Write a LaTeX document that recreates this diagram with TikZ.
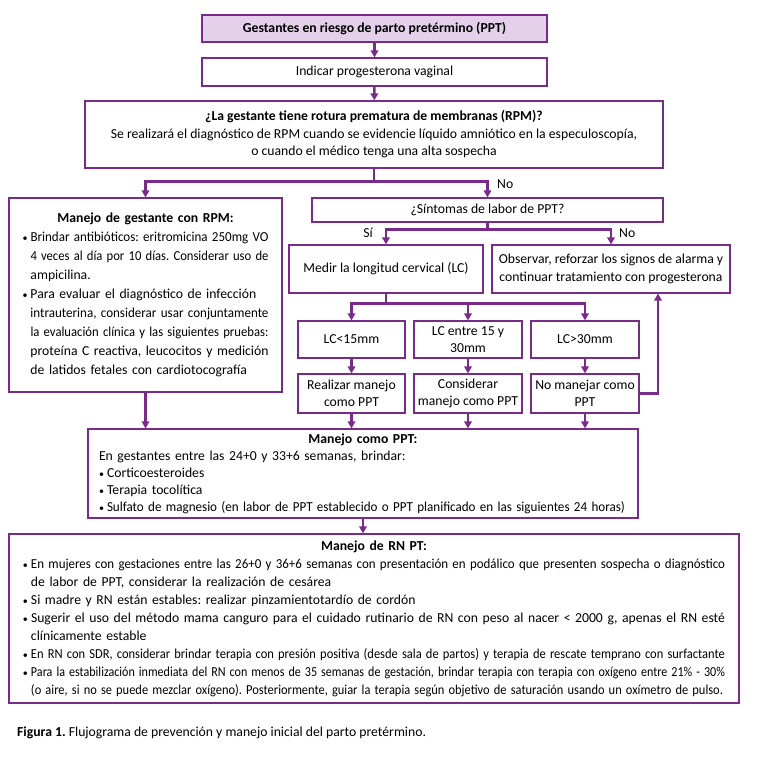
\documentclass[tikz,border=0pt]{standalone}
\usepackage{fontspec}
\setmainfont{Carlito}
\usepackage{graphicx}
\usetikzlibrary{arrows.meta}

\definecolor{morado}{RGB}{122,42,138}
\definecolor{lila}{RGB}{228,208,234}

% justified line of a given width: spread the spaces, or squeeze the glyphs
\newcommand{\fitline}[2]{\sbox0{#2}\ifdim\wd0>#1\relax\resizebox{#1}{\height}{#2}\else\makebox[#1][s]{#2}\fi}
\newcommand{\bul}{\makebox[8pt][l]{\fontsize{10}{10}\selectfont\textbullet}}
\frenchspacing

\begin{document}
\begin{tikzpicture}[x=1pt,y=-1pt,
    caja/.style={draw=morado, line width=1.2pt, inner sep=0pt, align=center,
        font=\fontsize{13.7}{17.5}\selectfont},
    flecha/.style={morado, line width=2.6pt, -{Triangle[width=7.5pt,length=7pt]}},
    etiqueta/.style={inner sep=0pt, font=\fontsize{13.7}{16}\selectfont}]

    \useasboundingbox (0,0) rectangle (756,758);

    % Top of the chart
    \node[caja, fill=lila, minimum width=345pt, minimum height=27pt] (inicio) at (374.5,28.5)
        {\textbf{Gestantes en riesgo de parto pretérmino (PPT)}};
    \node[caja, minimum width=345pt, minimum height=28pt] (progest) at (374.5,72)
        {Indicar progesterona vaginal};
    \node[caja, minimum width=578pt, minimum height=67pt] (rpm) at (374,134.5)
        {\textbf{¿La gestante tiene rotura prematura de membranas (RPM)?}\\
         Se realizará el diagnóstico de RPM cuando se evidencie líquido amniótico en la especuloscopía,\\
         o cuando el médico tenga una alta sospecha};

    % Left branch
    \node[caja, minimum width=273pt, minimum height=194pt, text width=246pt, align=left,
        font=\fontsize{13.7}{19}\selectfont] (conrpm) at (145.5,295)
        {\makebox[246pt]{\textbf{Manejo de gestante con RPM:}}\\
         \bul\fitline{238pt}{Brindar antibióticos: eritromicina 250mg VO}\\
         \hspace*{8pt}\fitline{238pt}{4 veces al día por 10 días. Considerar uso de}\\
         \hspace*{8pt}ampicilina.\\
         \bul\fitline{238pt}{Para evaluar el diagnóstico de infección}\\
         \hspace*{8pt}\fitline{238pt}{intrauterina, considerar usar conjuntamente}\\
         \hspace*{8pt}\fitline{238pt}{la evaluación clínica y las siguientes pruebas:}\\
         \hspace*{8pt}\fitline{238pt}{proteína C reactiva, leucocitos y medición}\\
         \hspace*{8pt}de latidos fetales con cardiotocografía};

    % Right branch
    \node[caja, minimum width=351pt, minimum height=24pt] (sintomas) at (487.5,210)
        {¿Síntomas de labor de PPT?};
    \node[caja, minimum width=194pt, minimum height=48pt] (medir) at (386,269)
        {Medir la longitud cervical (LC)};
    \node[caja, minimum width=238pt, minimum height=48pt] (observar) at (611,269)
        {Observar, reforzar los signos de alarma y\\continuar tratamiento con progesterona};

    \node[caja, minimum width=107pt, minimum height=37pt] (lcmenor) at (351.5,339.5) {LC<15mm};
    \node[caja, minimum width=108pt, minimum height=37pt] (lcentre) at (468,339.5) {LC entre 15 y\\30mm};
    \node[caja, minimum width=108pt, minimum height=37pt] (lcmayor) at (585,339.5) {LC>30mm};

    \node[caja, minimum width=107pt, minimum height=39pt] (realizar) at (351.5,393.5) {Realizar manejo\\como PPT};
    \node[caja, minimum width=108pt, minimum height=39pt] (considerar) at (468,393.5) {Considerar\\manejo como PPT};
    \node[caja, minimum width=108pt, minimum height=39pt] (nomanejar) at (585,393.5) {No manejar como\\PPT};

    % Management boxes
    \node[caja, minimum width=550pt, minimum height=89pt, text width=528pt, align=left,
        font=\fontsize{13.7}{17}\selectfont] (comoppt) at (363,473.5)
        {\makebox[528pt]{\textbf{Manejo como PPT:}}\\
         En gestantes entre las 24+0 y 33+6 semanas, brindar:\\
         \bul Corticoesteroides\\
         \bul Terapia tocolítica\\
         \bul\fitline{518pt}{Sulfato de magnesio (en labor de PPT establecido o PPT planificado en las siguientes 24 horas)}};

    \node[caja, minimum width=730pt, minimum height=169pt, text width=702pt, align=left,
        font=\fontsize{13.7}{18}\selectfont] (rnpt) at (374,618.5)
        {\makebox[702pt]{\textbf{Manejo de RN PT:}}\\
         \bul\fitline{694pt}{En mujeres con gestaciones entre las 26+0 y 36+6 semanas con presentación en podálico que presenten sospecha o diagnóstico}\\
         \hspace*{8pt}de labor de PPT, considerar la realización de cesárea\\
         \bul Si madre y RN están estables: realizar pinzamientotardío de cordón\\
         \bul\fitline{694pt}{Sugerir el uso del método mama canguro para el cuidado rutinario de RN con peso al nacer < 2000 g, apenas el RN esté}\\
         \hspace*{8pt}clínicamente estable\\
         \bul\fitline{694pt}{En RN con SDR, considerar brindar terapia con presión positiva (desde sala de partos) y terapia de rescate temprano con surfactante}\\
         \bul\fitline{694pt}{Para la estabilización inmediata del RN con menos de 35 semanas de gestación, brindar terapia con terapia con oxígeno entre 21\% - 30\%}\\
         \hspace*{8pt}\fitline{692pt}{(o aire, si no se puede mezclar oxígeno). Posteriormente, guiar la terapia según objetivo de saturación usando un oxímetro de pulso.}};

    \node[etiqueta, anchor=west] (leyenda) at (17,733)
        {\textbf{Figura 1.} Flujograma de prevención y manejo inicial del parto pretérmino.};

    % Branch labels
    \node[etiqueta, anchor=west] (norpm) at (497,184) {No};
    \node[etiqueta, anchor=east] (si) at (373,233) {Sí};
    \node[etiqueta, anchor=west] (nosint) at (619,233) {No};

    % Connectors
    \draw[flecha] (inicio) -- (progest);
    \draw[flecha] (progest) -- (rpm);
    \draw[flecha] (rpm.south) -- ++(0,13) -| (conrpm.north);
    \draw[flecha] (rpm.south) -- ++(0,13) -| (sintomas.north);
    \draw[flecha] (sintomas.south) -- ++(0,7) -| (medir.north);
    \draw[flecha] (sintomas.south) -- ++(0,7) -| (observar.north);
    \draw[flecha] (medir.south) -- ++(0,10) -| (lcmenor.north);
    \draw[flecha] (medir.south) -- ++(0,10) -| (lcentre.north);
    \draw[flecha] (medir.south) -- ++(0,10) -| (lcmayor.north);
    \draw[flecha] (lcmenor) -- (realizar);
    \draw[flecha] (lcentre) -- (considerar);
    \draw[flecha] (lcmayor) -- (nomanejar);
    \draw[flecha] (nomanejar.east) -| ([xshift=47pt]observar.south);
    \draw[flecha] (conrpm.south) -- (conrpm.south |- comoppt.north);
    \draw[flecha] (realizar.south) -- (realizar.south |- comoppt.north);
    \draw[flecha] (considerar.south) -- (considerar.south |- comoppt.north);
    \draw[flecha] (nomanejar.south) -- (nomanejar.south |- comoppt.north);
    \draw[flecha] (comoppt.south) -- (comoppt.south |- rnpt.north);

\end{tikzpicture}
\end{document}
